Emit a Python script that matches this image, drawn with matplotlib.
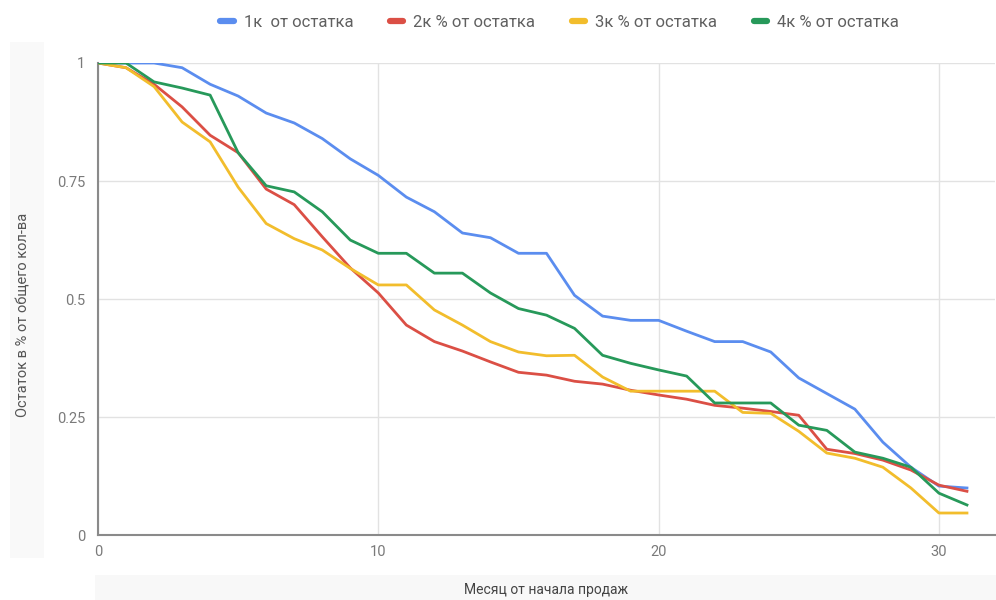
import matplotlib
matplotlib.use("Agg")
import matplotlib.pyplot as plt
from matplotlib.lines import Line2D
from matplotlib.patches import Rectangle

plt.rcParams["font.family"] = ["Roboto", "DejaVu Sans"]

# месяцы от начала продаж
months = list(range(32))

# доля остатка по каждой партии
rest_1k = [1.0, 1.0, 1.0, 0.99, 0.955, 0.93, 0.894, 0.873, 0.84, 0.797, 0.762,
           0.716, 0.685, 0.64, 0.63, 0.597, 0.597, 0.508, 0.464, 0.455, 0.455,
           0.432, 0.41, 0.41, 0.388, 0.333, 0.30, 0.267, 0.197, 0.144, 0.104, 0.10]
rest_2k = [1.0, 0.99, 0.955, 0.907, 0.847, 0.81, 0.733, 0.70, 0.632, 0.566, 0.513,
           0.445, 0.41, 0.39, 0.367, 0.345, 0.339, 0.326, 0.32, 0.307, 0.297,
           0.288, 0.275, 0.269, 0.262, 0.254, 0.182, 0.173, 0.159, 0.138, 0.106, 0.093]
rest_3k = [1.0, 0.99, 0.95, 0.875, 0.833, 0.737, 0.66, 0.628, 0.604, 0.565, 0.53,
           0.53, 0.477, 0.445, 0.41, 0.388, 0.38, 0.381, 0.335, 0.305, 0.305,
           0.305, 0.305, 0.26, 0.258, 0.22, 0.174, 0.163, 0.144, 0.10, 0.047, 0.047]
rest_4k = [1.0, 1.0, 0.96, 0.947, 0.932, 0.81, 0.74, 0.727, 0.685, 0.625, 0.597,
           0.597, 0.555, 0.555, 0.513, 0.48, 0.466, 0.438, 0.381, 0.364, 0.35,
           0.337, 0.28, 0.28, 0.28, 0.233, 0.222, 0.176, 0.163, 0.144, 0.089, 0.064]

series_labels = ["1к  от остатка", "2к % от остатка", "3к % от остатка", "4к % от остатка"]
series_colors = ["#5b8def", "#db4f45", "#f2bd2c", "#27995a"]

y_ticks = [0, 0.25, 0.5, 0.75, 1]
y_tick_labels = ["0", "0.25", "0.5", "0.75", "1"]
x_ticks = [0, 10, 20, 30]

fig = plt.figure(figsize=(9.96, 6.0), dpi=100)

# едва заметные полосы под подписями осей
fig.patches.append(Rectangle((0.095, 0.0), 0.905, 0.042, transform=fig.transFigure,
                             facecolor="#f8f8f8", edgecolor="none", zorder=0))
fig.patches.append(Rectangle((0.01, 0.07), 0.034, 0.86, transform=fig.transFigure,
                             facecolor="#f9f9f9", edgecolor="none", zorder=0))

ax = fig.add_axes([0.0984, 0.108, 0.9006, 0.787])

for vals, col in zip([rest_1k, rest_2k, rest_3k, rest_4k], series_colors):
    ax.plot(months, vals, color=col, linewidth=2.0, solid_joinstyle="round", zorder=3)

ax.set_xlim(0, 32)
ax.set_ylim(0, 1)
ax.set_xticks(x_ticks)
ax.set_xticklabels([str(t) for t in x_ticks])
ax.set_yticks(y_ticks)
ax.set_yticklabels(y_tick_labels)
ax.tick_params(length=0, colors="#7a7a7a", labelsize=10.5)
ax.tick_params(axis="x", pad=7)
ax.tick_params(axis="y", pad=9)

ax.grid(True, color="#e2e2e2", linewidth=1.0)
ax.set_axisbelow(True)
for side in ["top", "right"]:
    ax.spines[side].set_visible(False)
for side in ["left", "bottom"]:
    ax.spines[side].set_color("#8a8a8a")
    ax.spines[side].set_linewidth(1.5)

# подписи осей
fig.text(0.024, 0.475, "Остаток в % от общего кол-ва", rotation=90,
         ha="center", va="center", fontsize=10.5, color="#555555")
fig.text(0.548, 0.017, "Месяц от начала продаж", ha="center", va="center",
         fontsize=10, color="#444444")

# легенда сверху
handles = [Line2D([0], [0], color=c, linewidth=4.5, solid_capstyle="round") for c in series_colors]
fig.legend(handles, series_labels, loc="center", bbox_to_anchor=(0.562, 0.962),
           ncol=4, frameon=False, fontsize=12, handlelength=0.8, handletextpad=0.6,
           columnspacing=2.2, labelcolor="#606060")

fig.savefig("out.png", dpi=100, facecolor="white")
